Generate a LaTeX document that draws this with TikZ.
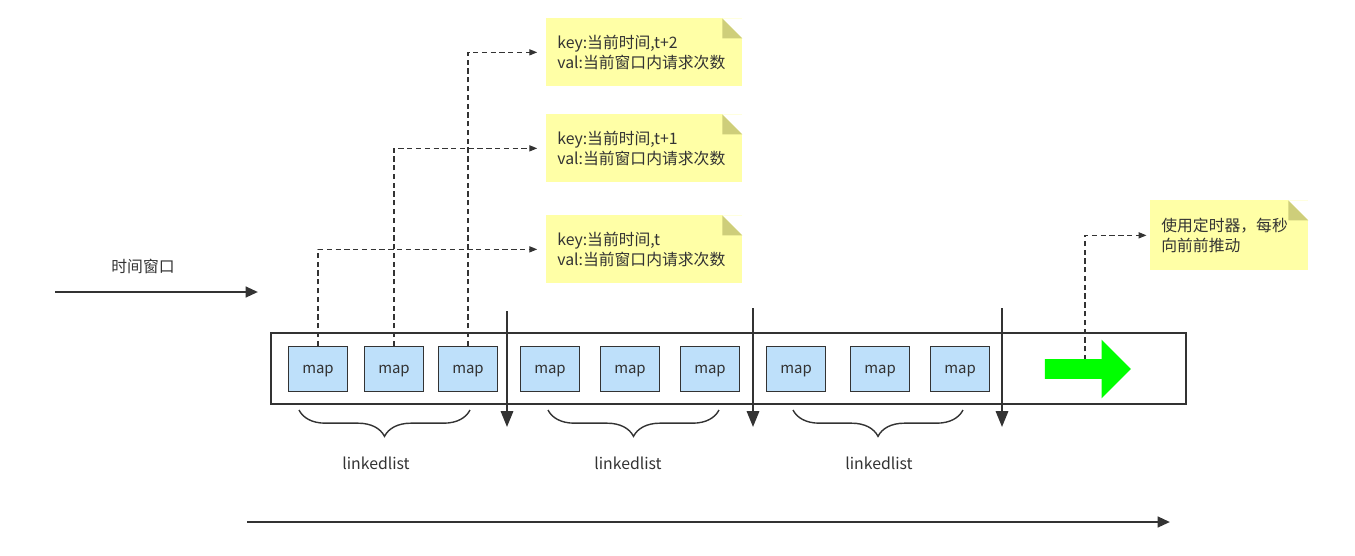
\documentclass[tikz,border=0pt]{standalone}
\usepackage{fontspec}
\setmainfont{Noto Sans CJK SC}
\usetikzlibrary{arrows.meta,shapes.arrows,decorations.pathreplacing}

\definecolor{linegray}{RGB}{51,51,51}
\definecolor{mapblue}{RGB}{190,224,250}
\definecolor{noteyellow}{RGB}{255,255,166}
\definecolor{notefold}{RGB}{206,206,122}
\definecolor{pushgreen}{RGB}{0,255,0}

\tikzset{
    mapbox/.style={draw=linegray, fill=mapblue, line width=0.6pt, minimum width=1.18cm, minimum height=0.9cm, inner sep=0pt, text depth=0pt, text=linegray, font=\fontsize{8.5}{10}\selectfont},
    note/.style={fill=noteyellow, anchor=north west, inner xsep=0.22cm, align=left, text=linegray, font=\fontsize{9}{11.4}\selectfont,
        path picture={
            \fill[white] (path picture bounding box.north east) -- ++(-0.4cm,0pt) -- ++(0.4cm,-0.4cm) -- cycle;
            \fill[notefold] (path picture bounding box.north east) ++(-0.4cm,0pt) -- ++(0pt,-0.4cm) -- ++(0.4cm,0pt) -- cycle;
        }},
    link/.style={linegray, line width=0.6pt, dash pattern=on 3pt off 2pt, -{Triangle[length=4.5pt,width=3.5pt]}},
    divider/.style={linegray, line width=1.2pt, -{Triangle[length=9pt,width=7pt]}},
    timeline/.style={linegray, line width=1.4pt, -{Triangle[length=7pt,width=6pt]}},
    listbrace/.style={linegray, line width=0.8pt, decorate, decoration={brace,mirror,amplitude=15pt}},
    label/.style={text=linegray, font=\fontsize{9}{11}\selectfont}
}

\begin{document}
\begin{tikzpicture}[x=0.02cm,y=-0.02cm]
        \useasboundingbox (0,0) rectangle (1355,555);

        % Time window
        \node[label] (tw) at (143,266) {时间窗口};
        \draw[timeline] (55,292) -- (258,292);

        % Window frame
        \draw[linegray, line width=1.4pt] (271,333) rectangle (1186,404);

        % Maps
        \node[mapbox] (m1) at (318,369) {map};
        \node[mapbox] (m2) at (394,369) {map};
        \node[mapbox] (m3) at (468,369) {map};
        \node[mapbox] (m4) at (550,369) {map};
        \node[mapbox] (m5) at (630,369) {map};
        \node[mapbox] (m6) at (710,369) {map};
        \node[mapbox] (m7) at (796,369) {map};
        \node[mapbox] (m8) at (880,369) {map};
        \node[mapbox] (m9) at (960,369) {map};

        % Dividers
        \draw[divider] (507,311) -- (507,427);
        \draw[divider] (753,308) -- (753,427);
        \draw[divider] (1002,308) -- (1002,427);

        % Linked lists
        \draw[listbrace] (299,410) -- (470,410);
        \draw[listbrace] (548,410) -- (719,410);
        \draw[listbrace] (793,410) -- (963,410);
        \node[label] (l1) at (376,463) {linkedlist};
        \node[label] (l2) at (628,463) {linkedlist};
        \node[label] (l3) at (879,463) {linkedlist};

        % Notes
        \node[note, minimum width=3.92cm, minimum height=1.36cm, text width=3.48cm] (n2) at (546,18) {key:当前时间,t+2\\val:当前窗口内请求次数};
        \node[note, minimum width=3.92cm, minimum height=1.36cm, text width=3.48cm] (n1) at (546,114) {key:当前时间,t+1\\val:当前窗口内请求次数};
        \node[note, minimum width=3.92cm, minimum height=1.36cm, text width=3.48cm] (n0) at (546,215) {key:当前时间,t\\val:当前窗口内请求次数};
        \node[note, minimum width=3.16cm, minimum height=1.4cm, text width=2.72cm] (timer) at (1150,200) {使用定时器，每秒\\向前前推动};

        % Links
        \draw[link, shorten >=5pt] (m1.north) |- (n0.west);
        \draw[link, shorten >=5pt] (m2.north) |- (n1.west);
        \draw[link, shorten >=5pt] (m3.north) |- (n2.west);

        % Push arrow
        \draw[link, shorten >=2pt] (1085,369) |- (timer.west);
        \node[single arrow, fill=pushgreen, inner xsep=0pt, inner ysep=0.19cm, minimum height=1.72cm, single arrow head extend=0.39cm] (push) at (1083,369) {};

        % Time axis
        \draw[timeline] (247,522) -- (1170,522);
    \end{tikzpicture}
\end{document}
